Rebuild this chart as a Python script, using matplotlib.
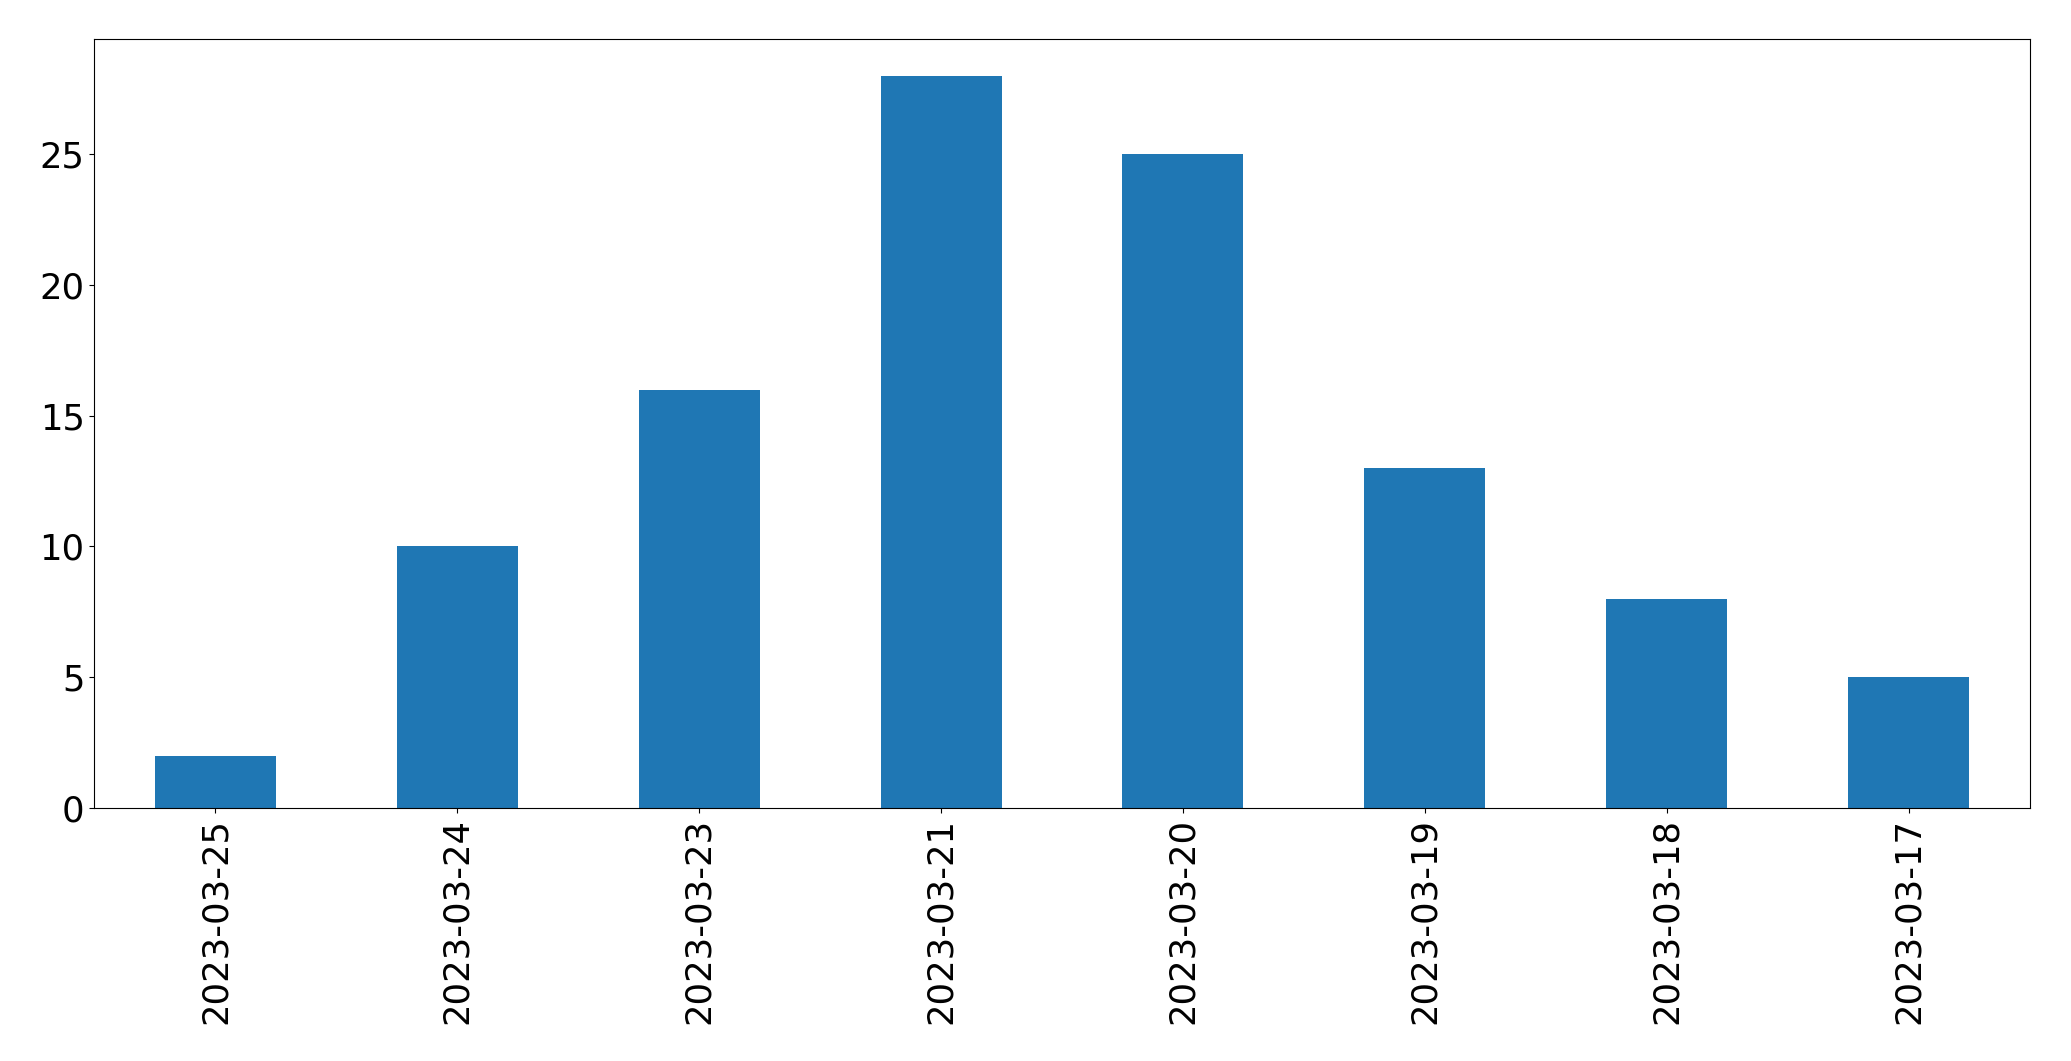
import matplotlib

matplotlib.use("Agg")
import matplotlib.pyplot as plt  # noqa: E402

dates = ["2023-03-25", "2023-03-24", "2023-03-23", "2023-03-21",
         "2023-03-20", "2023-03-19", "2023-03-18", "2023-03-17"]
counts = [2, 10, 16, 28, 25, 13, 8, 5]


def main() -> None:
    fig = plt.figure(figsize=(20.71, 10.61), dpi=100)
    ax = fig.add_axes([0.0456, 0.2385, 0.9344, 0.7245])
    x = list(range(len(dates)))
    ax.bar(x, counts, width=0.5, color="#1f77b4")
    ax.set_xlim(-0.5, len(dates) - 0.5)
    ax.set_ylim(0, max(counts) * 1.05)
    ax.set_xticks(x)
    ax.set_xticklabels(dates, rotation=90)
    ax.tick_params(labelsize=25.5)
    fig.savefig("out.png", dpi=100)


if __name__ == "__main__":
    main()
